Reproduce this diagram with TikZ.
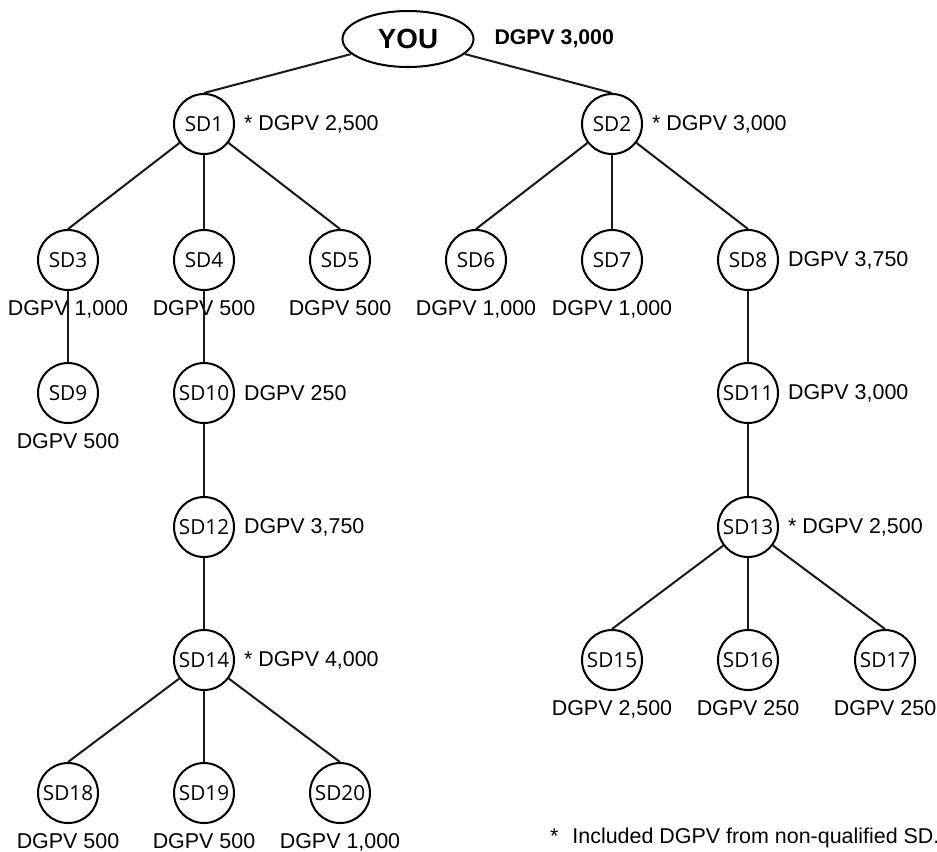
\documentclass[tikz,border=0pt]{standalone}
\usepackage{fontspec}
\setmainfont{Liberation Sans}
\newfontfamily\sdfont{Open Sans}
\usetikzlibrary{positioning, shapes.geometric}

\begin{document}
\begin{tikzpicture}[
  line width=1.15pt,
  sd/.style={circle, draw, minimum size=1.2cm, inner sep=0pt,
    font=\sdfont\fontsize{11.8}{13}\selectfont},
  you/.style={ellipse, draw, minimum width=2.62cm, minimum height=1.12cm, inner sep=0pt,
    font=\fontsize{15.8}{17}\selectfont\bfseries},
  val/.style={inner sep=0pt, font=\fontsize{12.2}{14}\selectfont},
  link/.style={draw=black!90},
]
  \useasboundingbox (0,0) rectangle (18.74,-17.02);

  % Top
  \node[you] (you) at (8.16, -0.78) {YOU};
  \node[val, font=\fontsize{12.1}{14}\selectfont\bfseries, right=0.38cm of you] (youval) {DGPV 3,000};

  % First level
  \node[sd] (sd1) at (4.08, -2.48) {SD1};
  \node[sd] (sd2) at (12.24, -2.48) {SD2};

  % Second level
  \node[sd] (sd3) at (1.36, -5.2) {SD3};
  \node[sd] (sd4) at (4.08, -5.2) {SD4};
  \node[sd] (sd5) at (6.8, -5.2) {SD5};
  \node[sd] (sd6) at (9.52, -5.2) {SD6};
  \node[sd] (sd7) at (12.24, -5.2) {SD7};
  \node[sd] (sd8) at (14.96, -5.2) {SD8};

  % Deeper levels
  \node[sd] (sd9) at (1.36, -7.86) {SD9};
  \node[sd] (sd10) at (4.08, -7.86) {SD10};
  \node[sd] (sd11) at (14.96, -7.86) {SD11};
  \node[sd] (sd12) at (4.08, -10.54) {SD12};
  \node[sd] (sd13) at (14.96, -10.54) {SD13};
  \node[sd] (sd14) at (4.08, -13.2) {SD14};
  \node[sd] (sd15) at (12.24, -13.2) {SD15};
  \node[sd] (sd16) at (14.96, -13.2) {SD16};
  \node[sd] (sd17) at (17.7, -13.2) {SD17};
  \node[sd] (sd18) at (1.36, -15.86) {SD18};
  \node[sd] (sd19) at (4.08, -15.86) {SD19};
  \node[sd] (sd20) at (6.8, -15.86) {SD20};

  % Values beside the nodes
  \node[val, right=0.16cm of sd1] (v1) {* DGPV 2,500};
  \node[val, right=0.16cm of sd2] (v2) {* DGPV 3,000};
  \node[val, right=0.16cm of sd8] (v8) {DGPV 3,750};
  \node[val, right=0.16cm of sd10] (v10) {DGPV 250};
  \node[val, right=0.16cm of sd11] (v11) {DGPV 3,000};
  \node[val, right=0.16cm of sd12] (v12) {DGPV 3,750};
  \node[val, right=0.16cm of sd13] (v13) {* DGPV 2,500};
  \node[val, right=0.16cm of sd14] (v14) {* DGPV 4,000};

  % Values under the nodes
  \node[val, below=0.17cm of sd3] (v3) {DGPV 1,000};
  \node[val, below=0.17cm of sd4] (v4) {DGPV 500};
  \node[val, below=0.17cm of sd5] (v5) {DGPV 500};
  \node[val, below=0.17cm of sd6] (v6) {DGPV 1,000};
  \node[val, below=0.17cm of sd7] (v7) {DGPV 1,000};
  \node[val, below=0.17cm of sd9] (v9) {DGPV 500};
  \node[val, below=0.17cm of sd15] (v15) {DGPV 2,500};
  \node[val, below=0.17cm of sd16] (v16) {DGPV 250};
  \node[val, below=0.17cm of sd17] (v17) {DGPV 250};
  \node[val, below=0.17cm of sd18] (v18) {DGPV 500};
  \node[val, below=0.17cm of sd19] (v19) {DGPV 500};
  \node[val, below=0.17cm of sd20] (v20) {DGPV 1,000};

  % Links
  \draw[link] (you) -- (sd1.north);
  \draw[link] (you) -- (sd2.north);
  \foreach \p/\c in {sd1/sd3, sd1/sd4, sd1/sd5, sd2/sd6, sd2/sd7, sd2/sd8,
      sd3/sd9, sd4/sd10, sd8/sd11, sd10/sd12, sd11/sd13, sd12/sd14,
      sd13/sd15, sd13/sd16, sd13/sd17, sd14/sd18, sd14/sd19, sd14/sd20}
    \draw[link] (\p) -- (\c.north);

  % Note
  \node[val, anchor=west] (note) at (10.98, -16.76) {*\hspace{8pt}Included DGPV from non-qualified SD.};

\end{tikzpicture}
\end{document}
